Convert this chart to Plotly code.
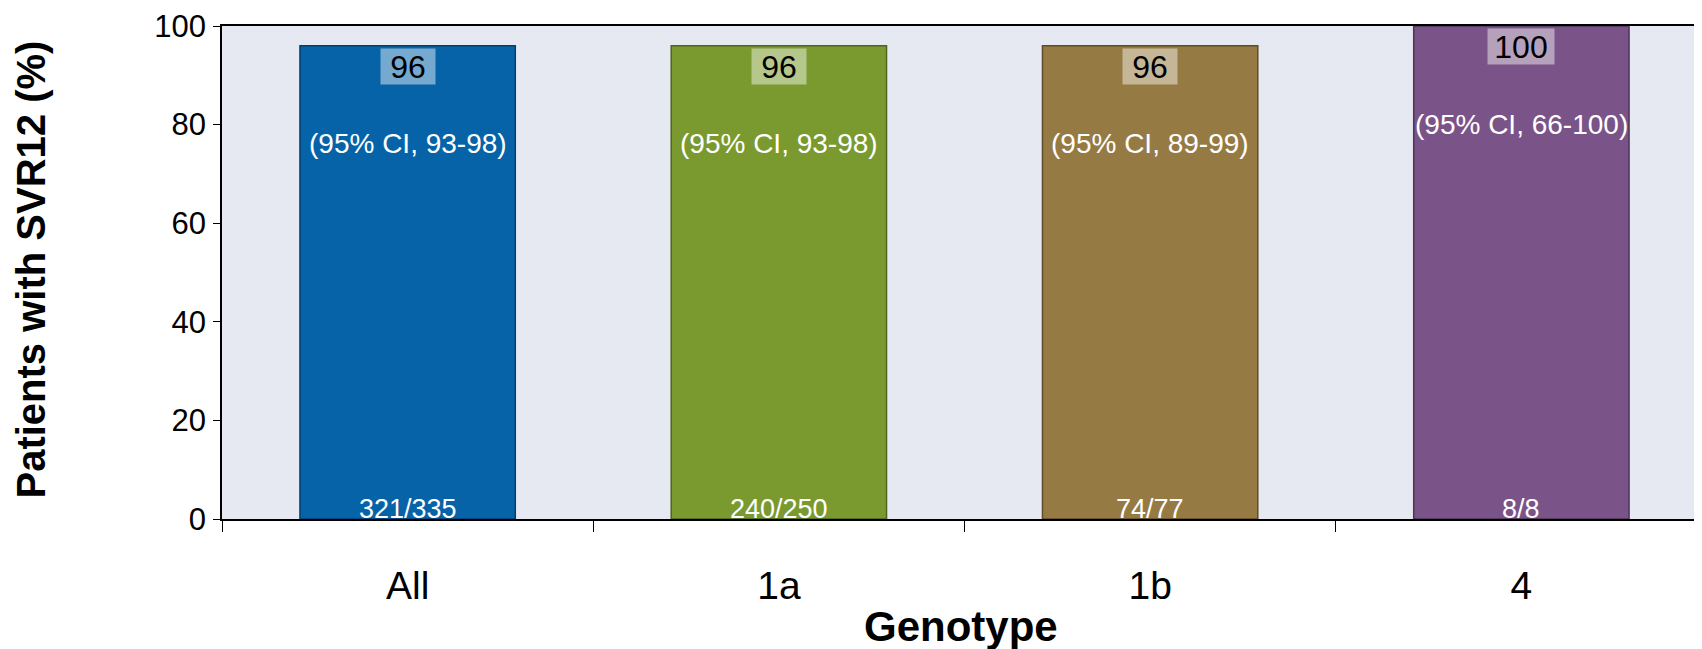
import plotly.graph_objects as go

categories = ["All", "1a", "1b", "4"]
svr_values = [96, 96, 96, 100]
value_labels = ["96", "96", "96", "100"]
ci_labels = ["(95% CI, 93-98)", "(95% CI, 93-98)", "(95% CI, 89-99)", "(95% CI, 66-100)"]
n_labels = ["321/335", "240/250", "74/77", "8/8"]
y_ticks = [0, 20, 40, 60, 80, 100]

bar_colors = ["#0663A8", "#7A9A2F", "#967A43", "#7A5488"]
edge_colors = ["#033F6E", "#4E6420", "#5F4D29", "#4C3456"]

FONT = "Arial, Liberation Sans, sans-serif"

fig = go.Figure()
fig.add_trace(go.Bar(
    x=categories,
    y=svr_values,
    width=0.58,
    marker=dict(color=bar_colors, line=dict(color=edge_colors, width=1.5)),
    hoverinfo="x+y",
    showlegend=False,
))

annotations = []
for i, (val, vl, ci, n) in enumerate(zip(svr_values, value_labels, ci_labels, n_labels)):
    annotations.append(dict(
        x=i, y=val, xref="x", yref="y", text=vl, showarrow=False,
        yanchor="top", yshift=-2,
        width=30 + 12 * len(vl), height=35,
        font=dict(family=FONT, size=32, color="black"),
        bgcolor="rgba(255,255,255,0.45)", borderpad=0,
    ))
    annotations.append(dict(
        x=i, y=val, xref="x", yref="y", text=ci, showarrow=False,
        yanchor="middle", yshift=-98,
        font=dict(family=FONT, size=28, color="white"),
    ))
    annotations.append(dict(
        x=i, y=2.0, xref="x", yref="y", text=n, showarrow=False,
        yanchor="middle",
        font=dict(family=FONT, size=27, color="white"),
    ))

annotations.append(dict(
    x=0, y=0.5, xref="paper", yref="paper", text="<b>Patients with SVR12 (%)</b>",
    showarrow=False, textangle=-90, xanchor="center", yanchor="middle",
    xshift=-192, yshift=3,
    font=dict(family=FONT, size=40, color="black"),
))
annotations.append(dict(
    x=0.5, y=0, xref="paper", yref="paper", text="<b>Genotype</b>",
    showarrow=False, xanchor="center", yanchor="middle", xshift=-4, yshift=-107,
    font=dict(family=FONT, size=42, color="black"),
))

fig.update_layout(
    width=1702, height=649,
    margin=dict(l=214, r=1, t=9, b=138),
    plot_bgcolor="#E6E9F1",
    paper_bgcolor="white",
    font=dict(family=FONT, color="black"),
    annotations=annotations,
    xaxis=dict(
        type="category",
        showline=True, linecolor="black", linewidth=1.5, mirror=True,
        ticks="outside", tickson="boundaries", ticklen=11, tickcolor="black",
        ticklabelstandoff=31,
        tickfont=dict(family=FONT, size=39, color="black"),
        showgrid=False, zeroline=False,
    ),
    yaxis=dict(
        range=[0, 100], tickvals=y_ticks,
        showline=True, linecolor="black", linewidth=1.5, mirror=True,
        ticks="outside", ticklen=7, tickcolor="black",
        ticklabelstandoff=1, ticklabeloverflow="allow",
        tickfont=dict(family=FONT, size=31, color="black"),
        showgrid=False, zeroline=False,
    ),
)

fig.write_html("out.html")
